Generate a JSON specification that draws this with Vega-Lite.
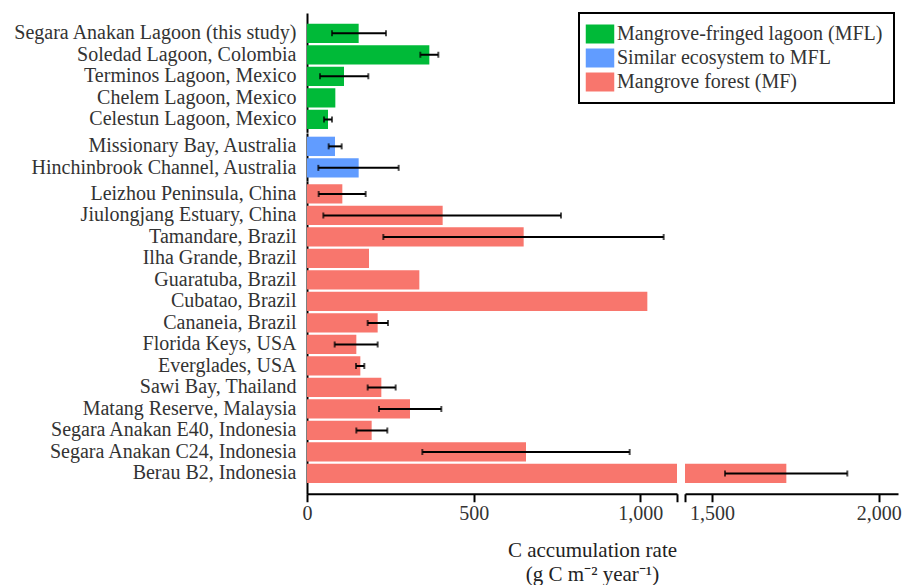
{
  "$schema": "https://vega.github.io/schema/vega-lite/v6.json",
  "background": "white",
  "padding": {"left": 12, "top": 12, "right": 5, "bottom": 0},
  "datasets": {
    "rates": [
      {"site": "Segara Anakan Lagoon (this study)", "type": "Mangrove-fringed lagoon (MFL)", "rate": 155, "lo": 75, "hi": 237},
      {"site": "Soledad Lagoon, Colombia", "type": "Mangrove-fringed lagoon (MFL)", "rate": 367, "lo": 340, "hi": 394},
      {"site": "Terminos Lagoon, Mexico", "type": "Mangrove-fringed lagoon (MFL)", "rate": 111, "lo": 39, "hi": 184},
      {"site": "Chelem Lagoon, Mexico", "type": "Mangrove-fringed lagoon (MFL)", "rate": 85, "lo": null, "hi": null},
      {"site": "Celestun Lagoon, Mexico", "type": "Mangrove-fringed lagoon (MFL)", "rate": 63, "lo": 51, "hi": 75},
      {"site": "Missionary Bay, Australia", "type": "Similar ecosystem to MFL", "rate": 84, "lo": 65, "hi": 104},
      {"site": "Hinchinbrook Channel, Australia", "type": "Similar ecosystem to MFL", "rate": 155, "lo": 34, "hi": 275},
      {"site": "Leizhou Peninsula, China", "type": "Mangrove forest (MF)", "rate": 106, "lo": 35, "hi": 176},
      {"site": "Jiulongjang Estuary, China", "type": "Mangrove forest (MF)", "rate": 407, "lo": 49, "hi": 762},
      {"site": "Tamandare, Brazil", "type": "Mangrove forest (MF)", "rate": 650, "lo": 229, "hi": 1070},
      {"site": "Ilha Grande, Brazil", "type": "Mangrove forest (MF)", "rate": 186, "lo": null, "hi": null},
      {"site": "Guaratuba, Brazil", "type": "Mangrove forest (MF)", "rate": 337, "lo": null, "hi": null},
      {"site": "Cubatao, Brazil", "type": "Mangrove forest (MF)", "rate": 1021, "lo": null, "hi": null},
      {"site": "Cananeia, Brazil", "type": "Mangrove forest (MF)", "rate": 212, "lo": 182, "hi": 243},
      {"site": "Florida Keys, USA", "type": "Mangrove forest (MF)", "rate": 148, "lo": 83, "hi": 212},
      {"site": "Everglades, USA", "type": "Mangrove forest (MF)", "rate": 160, "lo": 147, "hi": 172},
      {"site": "Sawi Bay, Thailand", "type": "Mangrove forest (MF)", "rate": 223, "lo": 182, "hi": 266},
      {"site": "Matang Reserve, Malaysia", "type": "Mangrove forest (MF)", "rate": 309, "lo": 216, "hi": 403},
      {"site": "Segara Anakan E40, Indonesia", "type": "Mangrove forest (MF)", "rate": 194, "lo": 148, "hi": 241},
      {"site": "Segara Anakan C24, Indonesia", "type": "Mangrove forest (MF)", "rate": 657, "lo": 346, "hi": 968},
      {"site": "Berau B2, Indonesia", "type": "Mangrove forest (MF)", "rate": 1723, "lo": 1539, "hi": 1906}
    ]
  },
  "spacing": 0,
  "resolve": {"scale": {"x": "independent", "y": "independent", "color": "shared"}},
  "vconcat": [
    {
      "width": 370,
      "height": 119.3,
      "data": {"name": "rates"},
      "transform": [{"filter": "datum.type === 'Mangrove-fringed lagoon (MFL)'"}],
      "encoding": {
        "y": {"field": "site", "type": "nominal", "sort": null,
          "scale": {"paddingInner": 0.1, "paddingOuter": 0.324, "align": 0.767, "round": false},
          "axis": {"title": null, "ticks": false, "domainColor": "black", "domainWidth": 2, "labelFont": "Liberation Serif", "labelFontSize": 20, "labelColor": "#333", "labelPadding": 11, "minExtent": 295, "labelLimit": 400}}
      },
      "layer": [
        {"mark": {"type": "bar", "clip": true},
          "encoding": {
            "x": {"field": "rate", "type": "quantitative", "scale": {"domain": [0, 1110], "nice": false, "zero": false}, "axis": null},
            "color": {"field": "type", "type": "nominal", "scale": {"domain": ["Mangrove-fringed lagoon (MFL)", "Similar ecosystem to MFL", "Mangrove forest (MF)"], "range": ["#00BA38", "#619CFF", "#F8766D"]}, "legend": {"title": null}}
          }},
        {"mark": {"type": "rule", "clip": true, "color": "black", "strokeWidth": 2},
          "encoding": {"x": {"field": "lo", "type": "quantitative", "axis": null}, "x2": {"field": "hi"}}},
        {"mark": {"type": "tick", "clip": true, "color": "black", "thickness": 2, "size": 6},
          "encoding": {"x": {"field": "lo", "type": "quantitative", "axis": null}}},
        {"mark": {"type": "tick", "clip": true, "color": "black", "thickness": 2, "size": 6},
          "encoding": {"x": {"field": "hi", "type": "quantitative", "axis": null}}}
      ]
    },
    {
      "width": 370,
      "height": 47.95,
      "data": {"name": "rates"},
      "transform": [{"filter": "datum.type === 'Similar ecosystem to MFL'"}],
      "encoding": {
        "y": {"field": "site", "type": "nominal", "sort": null,
          "scale": {"paddingInner": 0.1, "paddingOuter": 0.165, "align": 0.52, "round": false},
          "axis": {"title": null, "ticks": false, "domainColor": "black", "domainWidth": 2, "labelFont": "Liberation Serif", "labelFontSize": 20, "labelColor": "#333", "labelPadding": 11, "minExtent": 295, "labelLimit": 400}}
      },
      "layer": [
        {"mark": {"type": "bar", "clip": true},
          "encoding": {
            "x": {"field": "rate", "type": "quantitative", "scale": {"domain": [0, 1110], "nice": false, "zero": false}, "axis": null},
            "color": {"field": "type", "type": "nominal", "scale": {"domain": ["Mangrove-fringed lagoon (MFL)", "Similar ecosystem to MFL", "Mangrove forest (MF)"], "range": ["#00BA38", "#619CFF", "#F8766D"]}, "legend": {"title": null}}
          }},
        {"mark": {"type": "rule", "clip": true, "color": "black", "strokeWidth": 2},
          "encoding": {"x": {"field": "lo", "type": "quantitative", "axis": null}, "x2": {"field": "hi"}}},
        {"mark": {"type": "tick", "clip": true, "color": "black", "thickness": 2, "size": 6},
          "encoding": {"x": {"field": "lo", "type": "quantitative", "axis": null}}},
        {"mark": {"type": "tick", "clip": true, "color": "black", "thickness": 2, "size": 6},
          "encoding": {"x": {"field": "hi", "type": "quantitative", "axis": null}}}
      ]
    },
    {
      "spacing": 6,
      "resolve": {"scale": {"x": "independent", "y": "independent", "color": "shared"}},
      "hconcat": [
        {
          "width": 370,
          "height": 312.75,
          "data": {"name": "rates"},
          "transform": [{"filter": "datum.type === 'Mangrove forest (MF)'"}],
          "encoding": {
            "y": {"field": "site", "type": "nominal", "sort": null,
              "scale": {"paddingInner": 0.1, "paddingOuter": 0.323, "align": 0.234, "round": false},
              "axis": {"title": null, "ticks": false, "domainColor": "black", "domainWidth": 2, "labelFont": "Liberation Serif", "labelFontSize": 20, "labelColor": "#333", "labelPadding": 11, "minExtent": 295, "labelLimit": 400}}
          },
          "layer": [
            {"mark": {"type": "bar", "clip": true},
              "encoding": {
                "x": {"field": "rate", "type": "quantitative", "scale": {"domain": [0, 1110], "nice": false, "zero": false},
                  "axis": {"values": [0, 500, 1000, 1110], "labelExpr": "datum.value > 1100 ? '' : format(datum.value, ',')",
                    "title": ["C accumulation rate", "(g C m⁻² year⁻¹)"], "titleX": 285, "titleY": 63, "titleBaseline": "alphabetic", "titleAlign": "center",
                    "titleFont": "Liberation Serif", "titleFontSize": 21, "titleFontWeight": "normal", "titleColor": "#222", "titleLineHeight": 24,
                    "grid": false, "domainColor": "black", "domainWidth": 2, "tickColor": "black", "tickWidth": 2, "tickSize": 8,
                    "labelFont": "Liberation Serif", "labelFontSize": 20, "labelColor": "#333", "labelPadding": 2, "labelFlush": false, "labelOverlap": false}},
                "color": {"field": "type", "type": "nominal", "scale": {"domain": ["Mangrove-fringed lagoon (MFL)", "Similar ecosystem to MFL", "Mangrove forest (MF)"], "range": ["#00BA38", "#619CFF", "#F8766D"]}, "legend": {"title": null}}
              }},
            {"mark": {"type": "rule", "clip": true, "color": "black", "strokeWidth": 2},
              "encoding": {"x": {"field": "lo", "type": "quantitative",
                "axis": {"values": [0, 500, 1000, 1110], "labelExpr": "datum.value > 1100 ? '' : format(datum.value, ',')",
                    "title": ["C accumulation rate", "(g C m⁻² year⁻¹)"], "titleX": 285, "titleY": 63, "titleBaseline": "alphabetic", "titleAlign": "center",
                    "titleFont": "Liberation Serif", "titleFontSize": 21, "titleFontWeight": "normal", "titleColor": "#222", "titleLineHeight": 24,
                    "grid": false, "domainColor": "black", "domainWidth": 2, "tickColor": "black", "tickWidth": 2, "tickSize": 8,
                    "labelFont": "Liberation Serif", "labelFontSize": 20, "labelColor": "#333", "labelPadding": 2, "labelFlush": false, "labelOverlap": false}}, "x2": {"field": "hi"}}},
            {"mark": {"type": "tick", "clip": true, "color": "black", "thickness": 2, "size": 6},
              "encoding": {"x": {"field": "lo", "type": "quantitative",
                "axis": {"values": [0, 500, 1000, 1110], "labelExpr": "datum.value > 1100 ? '' : format(datum.value, ',')",
                    "title": ["C accumulation rate", "(g C m⁻² year⁻¹)"], "titleX": 285, "titleY": 63, "titleBaseline": "alphabetic", "titleAlign": "center",
                    "titleFont": "Liberation Serif", "titleFontSize": 21, "titleFontWeight": "normal", "titleColor": "#222", "titleLineHeight": 24,
                    "grid": false, "domainColor": "black", "domainWidth": 2, "tickColor": "black", "tickWidth": 2, "tickSize": 8,
                    "labelFont": "Liberation Serif", "labelFontSize": 20, "labelColor": "#333", "labelPadding": 2, "labelFlush": false, "labelOverlap": false}}}},
            {"mark": {"type": "tick", "clip": true, "color": "black", "thickness": 2, "size": 6},
              "encoding": {"x": {"field": "hi", "type": "quantitative",
                "axis": {"values": [0, 500, 1000, 1110], "labelExpr": "datum.value > 1100 ? '' : format(datum.value, ',')",
                    "title": ["C accumulation rate", "(g C m⁻² year⁻¹)"], "titleX": 285, "titleY": 63, "titleBaseline": "alphabetic", "titleAlign": "center",
                    "titleFont": "Liberation Serif", "titleFontSize": 21, "titleFontWeight": "normal", "titleColor": "#222", "titleLineHeight": 24,
                    "grid": false, "domainColor": "black", "domainWidth": 2, "tickColor": "black", "tickWidth": 2, "tickSize": 8,
                    "labelFont": "Liberation Serif", "labelFontSize": 20, "labelColor": "#333", "labelPadding": 2, "labelFlush": false, "labelOverlap": false}}}}
          ]
        },
        {
          "width": 213,
          "height": 312.75,
          "data": {"name": "rates"},
          "transform": [{"filter": "datum.type === 'Mangrove forest (MF)'"}],
          "encoding": {
            "y": {"field": "site", "type": "nominal", "sort": null,
              "scale": {"paddingInner": 0.1, "paddingOuter": 0.323, "align": 0.234, "round": false},
              "axis": null}
          },
          "layer": [
            {"mark": {"type": "bar", "clip": true},
              "encoding": {
                "x": {"field": "rate", "type": "quantitative", "scale": {"domain": [1419, 2058], "nice": false, "zero": false},
                  "axis": {"values": [1419, 1500, 2000], "labelExpr": "datum.value < 1450 ? '' : format(datum.value, ',')", "title": null,
                    "grid": false, "domainColor": "black", "domainWidth": 2, "tickColor": "black", "tickWidth": 2, "tickSize": 8,
                    "labelFont": "Liberation Serif", "labelFontSize": 20, "labelColor": "#333", "labelPadding": 2, "labelFlush": false, "labelOverlap": false}},
                "color": {"field": "type", "type": "nominal", "scale": {"domain": ["Mangrove-fringed lagoon (MFL)", "Similar ecosystem to MFL", "Mangrove forest (MF)"], "range": ["#00BA38", "#619CFF", "#F8766D"]}, "legend": {"title": null}}
              }},
            {"mark": {"type": "rule", "clip": true, "color": "black", "strokeWidth": 2},
              "encoding": {"x": {"field": "lo", "type": "quantitative",
                "axis": {"values": [1419, 1500, 2000], "labelExpr": "datum.value < 1450 ? '' : format(datum.value, ',')", "title": null,
                    "grid": false, "domainColor": "black", "domainWidth": 2, "tickColor": "black", "tickWidth": 2, "tickSize": 8,
                    "labelFont": "Liberation Serif", "labelFontSize": 20, "labelColor": "#333", "labelPadding": 2, "labelFlush": false, "labelOverlap": false}}, "x2": {"field": "hi"}}},
            {"mark": {"type": "tick", "clip": true, "color": "black", "thickness": 2, "size": 6},
              "encoding": {"x": {"field": "lo", "type": "quantitative",
                "axis": {"values": [1419, 1500, 2000], "labelExpr": "datum.value < 1450 ? '' : format(datum.value, ',')", "title": null,
                    "grid": false, "domainColor": "black", "domainWidth": 2, "tickColor": "black", "tickWidth": 2, "tickSize": 8,
                    "labelFont": "Liberation Serif", "labelFontSize": 20, "labelColor": "#333", "labelPadding": 2, "labelFlush": false, "labelOverlap": false}}}},
            {"mark": {"type": "tick", "clip": true, "color": "black", "thickness": 2, "size": 6},
              "encoding": {"x": {"field": "hi", "type": "quantitative",
                "axis": {"values": [1419, 1500, 2000], "labelExpr": "datum.value < 1450 ? '' : format(datum.value, ',')", "title": null,
                    "grid": false, "domainColor": "black", "domainWidth": 2, "tickColor": "black", "tickWidth": 2, "tickSize": 8,
                    "labelFont": "Liberation Serif", "labelFontSize": 20, "labelColor": "#333", "labelPadding": 2, "labelFlush": false, "labelOverlap": false}}}}
          ]
        }
      ]
    }
  ],
  "config": {
    "view": {"stroke": null},
    "font": "Liberation Serif",
    "legend": {
      "orient": "none", "legendX": 272, "legendY": 0,
      "strokeColor": "black", "strokeWidth": 2, "fillColor": "white", "padding": 11,
      "symbolType": "M-1.5,-1H1.5V1H-1.5Z", "symbolSize": 361, "symbolStrokeWidth": 0, "symbolOpacity": 1,
      "labelFont": "Liberation Serif", "labelFontSize": 20, "labelColor": "#333", "labelOffset": 7, "labelLimit": 400,
      "rowPadding": 4
    }
  }
}
